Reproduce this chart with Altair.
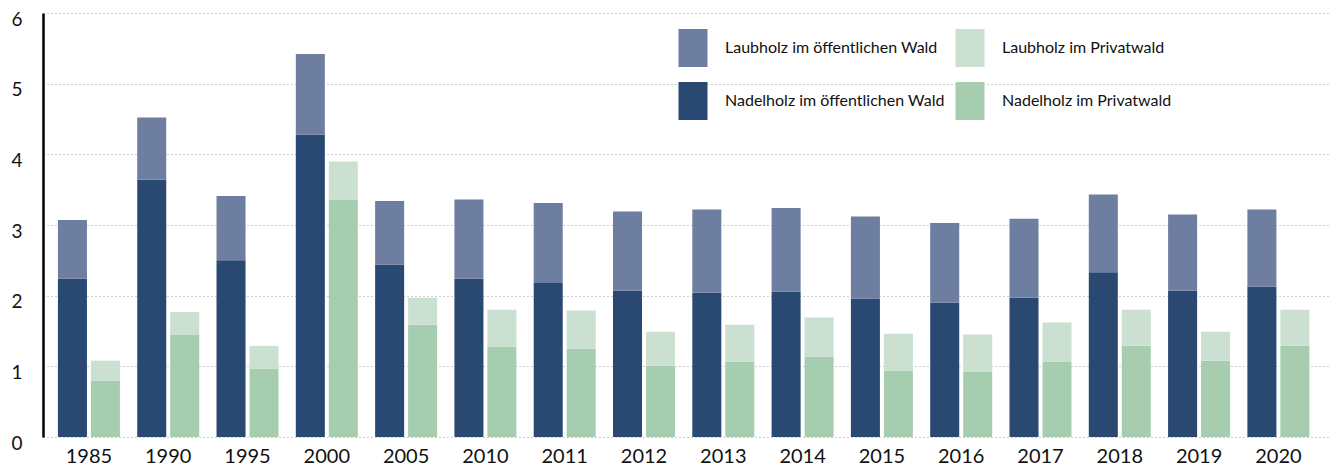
import altair as alt
import pandas as pd

years = ["1985", "1990", "1995", "2000", "2005", "2010", "2011", "2012",
         "2013", "2014", "2015", "2016", "2017", "2018", "2019", "2020"]

nadel_oeff = [2.24, 3.64, 2.50, 4.28, 2.44, 2.24, 2.18, 2.07,
              2.04, 2.06, 1.96, 1.90, 1.97, 2.33, 2.07, 2.13]
laub_oeff = [0.83, 0.88, 0.91, 1.14, 0.90, 1.12, 1.13, 1.12,
             1.18, 1.18, 1.16, 1.13, 1.12, 1.10, 1.08, 1.09]
nadel_privat = [0.80, 1.45, 0.97, 3.36, 1.59, 1.28, 1.25, 1.01,
                1.07, 1.14, 0.94, 0.92, 1.07, 1.29, 1.08, 1.29]
laub_privat = [0.28, 0.32, 0.32, 0.54, 0.38, 0.52, 0.54, 0.48,
               0.52, 0.55, 0.52, 0.53, 0.55, 0.51, 0.41, 0.51]

# legend fills column by column
series_names = ["Laubholz im öffentlichen Wald", "Nadelholz im öffentlichen Wald",
                "Laubholz im Privatwald", "Nadelholz im Privatwald"]
series_colors = ["#6e7ea1", "#2a4972", "#cbe0d0", "#a7cdb0"]

rows = []
for i, y in enumerate(years):
    rows.append({"Jahr": y, "Besitz": "oeff", "Serie": series_names[1], "Wert": nadel_oeff[i], "Ordnung": 0})
    rows.append({"Jahr": y, "Besitz": "oeff", "Serie": series_names[0], "Wert": laub_oeff[i], "Ordnung": 1})
    rows.append({"Jahr": y, "Besitz": "privat", "Serie": series_names[3], "Wert": nadel_privat[i], "Ordnung": 0})
    rows.append({"Jahr": y, "Besitz": "privat", "Serie": series_names[2], "Wert": laub_privat[i], "Ordnung": 1})
df = pd.DataFrame(rows)

FONT = "Lato"

chart = alt.Chart(df).mark_bar().encode(
    x=alt.X("Jahr:N", sort=years, title=None,
            scale=alt.Scale(paddingInner=0.218, paddingOuter=0.224, align=0.42),
            axis=alt.Axis(labelAngle=0, domain=False, ticks=False, grid=False,
                          labelFontSize=20, labelPadding=9, labelColor="#111",
                          labelFont=FONT)),
    xOffset=alt.XOffset("Besitz:N", sort=["oeff", "privat"],
                        scale=alt.Scale(paddingInner=0.12, paddingOuter=0)),
    y=alt.Y("Wert:Q", stack="zero", title=None,
            scale=alt.Scale(domain=[0, 6], nice=False),
            axis=alt.Axis(values=[0, 1, 2, 3, 4, 5, 6], format="d",
                          ticks=False, labelPadding=21, labelFontSize=19,
                          labelColor="#111", labelFont=FONT, labelOffset=6,
                          domain=True, domainColor="#000", domainWidth=2.5,
                          grid=True, gridColor="#9a9a9a", gridDash=[1, 3],
                          gridWidth=1)),
    color=alt.Color("Serie:N",
                    scale=alt.Scale(domain=series_names, range=series_colors),
                    legend=alt.Legend(
                        title=None, orient="none", legendX=631, legendY=16,
                        columns=2, columnPadding=6, rowPadding=15,
                        symbolType="M-0.763,-1H0.763V1H-0.763Z",
                        symbolSize=1444, symbolStrokeWidth=0,
                        symbolOpacity=1, labelOffset=13, labelFontSize=16,
                        labelFont=FONT, labelColor="#111", labelLimit=400,
                        padding=0)),
    order=alt.Order("Ordnung:Q", sort="ascending"),
).properties(
    width=1287, height=424,
    autosize=alt.AutoSizeParams(type="none"),
    padding={"left": 35, "top": 5, "right": 0, "bottom": 30},
).configure_view(stroke=None)

chart.save("out.html", embed_options={"renderer": "svg", "actions": False})
